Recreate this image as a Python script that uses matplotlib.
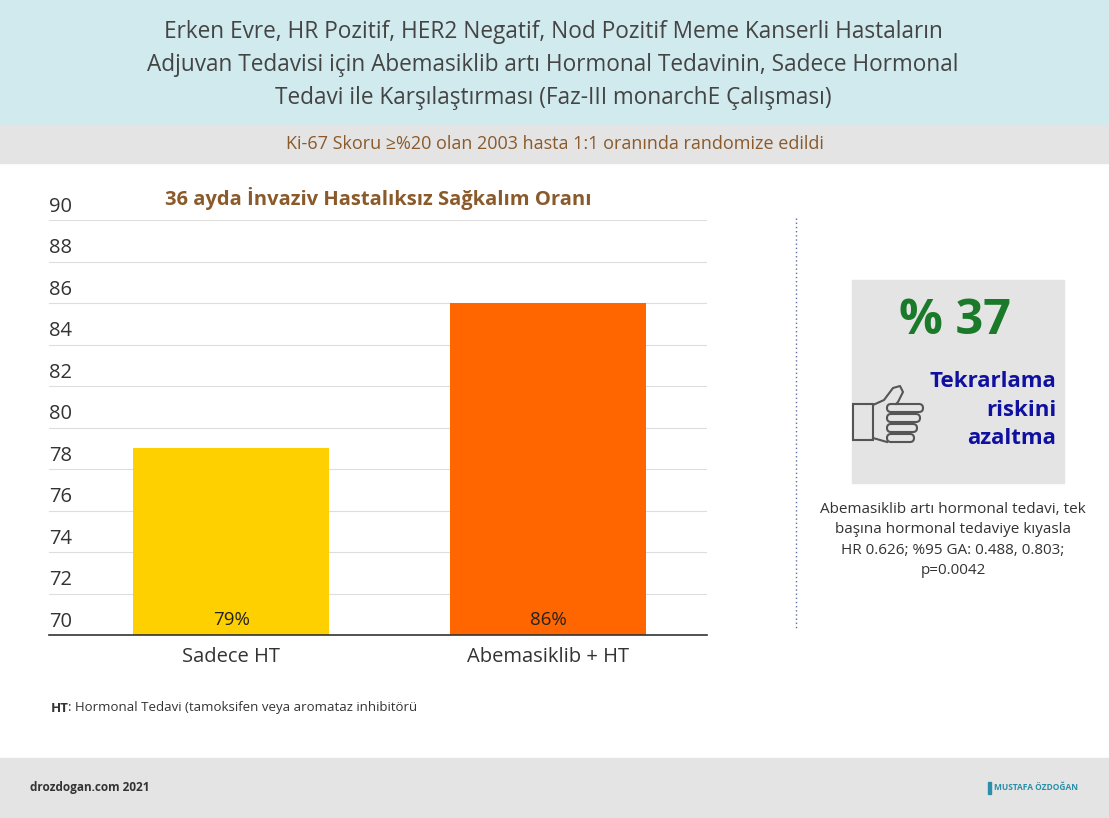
import matplotlib
matplotlib.use("Agg")
import matplotlib.pyplot as plt
from matplotlib.patches import Rectangle, FancyBboxPatch

plt.rcParams["font.family"] = "Open Sans"

categories = ["Sadece HT", "Abemasiklib + HT"]
values = [79, 86]
bar_labels = ["79%", "86%"]
bar_colors = ["#ffd000", "#ff6600"]
yticks = list(range(70, 91, 2))

W, H = 1109, 818
fig = plt.figure(figsize=(W / 100, H / 100), dpi=100)


def fx(px):
    return px / W


def fy(py):
    return 1 - py / H


# background bands
bg = fig.add_axes([0, 0, 1, 1])
bg.set_xlim(0, W)
bg.set_ylim(H, 0)
bg.axis("off")
bg.add_patch(Rectangle((0, 0), W, 125, color="#d1eaed"))
bg.add_patch(Rectangle((0, 125), W, 38, color="#e4e4e4"))
bg.add_patch(Rectangle((0, 758), W, 60, color="#e4e4e4"))

bg.text(553, 65, "Erken Evre, HR Pozitif, HER2 Negatif, Nod Pozitif Meme Kanserli Hastaların\n"
        "Adjuvan Tedavisi için Abemasiklib artı Hormonal Tedavinin, Sadece Hormonal\n"
        "Tedavi ile Karşılaştırması (Faz-III monarchE Çalışması)",
        ha="center", va="center", fontsize=16.3, color="#444444", linespacing=1.5)
bg.text(555, 144, "Ki-67 Skoru ≥%20 olan 2003 hasta 1:1 oranında randomize edildi",
        ha="center", va="center", fontsize=13, color="#8a5a2b")
bg.text(378, 199, "36 ayda İnvaziv Hastalıksız Sağkalım Oranı", ha="center", va="center",
        fontsize=14.5, color="#8a5a2b", fontweight="bold")
bg.text(51, 708, "HT", ha="left", va="center", fontsize=9.5, fontweight="bold", color="#333333")
bg.text(68, 708, ": Hormonal Tedavi (tamoksifen veya aromataz inhibitörü", ha="left", va="center",
        fontsize=9.5, color="#333333")
bg.text(30, 787, "drozdogan.com 2021", ha="left", va="center", fontsize=8.5,
        fontweight="bold", color="#333333")
bg.add_patch(Rectangle((988, 782), 3, 12, color="#2a8fa8"))
bg.text(994, 788, "MUSTAFA ÖZDOĞAN", ha="left", va="center", fontsize=6, color="#2a8fa8",
        fontweight="bold")

# right panel
bg.plot([796, 796], [218, 630], color="#5a6fa0", lw=1, ls=(0, (1, 2)))
bg.add_patch(Rectangle((852, 280), 212, 203, color="#e4e4e4"))
bg.text(955, 322, "% 37", ha="center", va="center", fontsize=35, fontweight="bold",
        color="#1a7a2a")
bg.text(1056, 410, "Tekrarlama\nriskini\nazaltma", ha="right", va="center", fontsize=16,
        fontweight="bold", color="#1010a0", linespacing=1.45)
# thumbs up outline
tc = "#555555"
bg.add_patch(Rectangle((853, 404), 20, 36, fill=False, ec=tc, lw=1.5))
bg.plot([873, 884, 893, 900, 903, 898, 896], [405, 400, 388, 386, 392, 402, 404], color=tc, lw=1.5)
for i, yy in enumerate([404, 414, 424, 434]):
    bg.add_patch(FancyBboxPatch((887, yy), 36 - i * 3, 8, boxstyle="round,pad=0,rounding_size=4",
                                fill=False, ec=tc, lw=1.5))
bg.plot([873, 887], [438, 442], color=tc, lw=1.5)
bg.text(953, 540, "Abemasiklib artı hormonal tedavi, tek\nbaşına hormonal tedaviye kıyasla\n"
        "HR 0.626; %95 GA: 0.488, 0.803;\np=0.0042", ha="center", va="center",
        fontsize=11, color="#333333", linespacing=1.5)

# bar chart
ax = fig.add_axes([fx(49), fy(635), fx(707) - fx(49), fy(220) - fy(635)])
x = list(range(len(categories)))
ax.bar(x, [v - 70 for v in values], bottom=70, width=0.618, color=bar_colors, zorder=2)
ax.set_xlim(-0.574, 1.5)
ax.set_ylim(70, 90)
ax.set_yticks(yticks)
ax.set_yticklabels([])
ax.grid(axis="y", color="#dddddd", lw=0.8, zorder=0)
ax.tick_params(left=False, bottom=False)
for s in ["top", "right", "left"]:
    ax.spines[s].set_visible(False)
ax.spines["bottom"].set_color("#333333")
ax.spines["bottom"].set_linewidth(1.2)
for t in yticks:
    ax.text(-0.574, t + 0.65, str(t), ha="left", va="center", fontsize=14.5, color="#333333")
for xi, lab in zip(x, bar_labels):
    ax.text(xi, 70.7, lab, ha="center", va="center", fontsize=13.5, color="#222222")
ax.set_xticks(x)
ax.set_xticklabels(categories, fontsize=14.5, color="#333333")
ax.tick_params(axis="x", pad=5)

fig.savefig("out.png", dpi=100)
